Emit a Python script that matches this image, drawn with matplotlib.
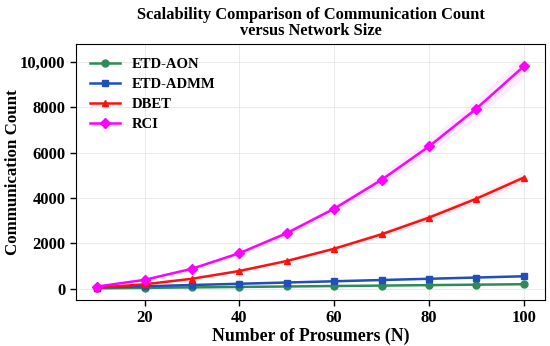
import numpy as np
import matplotlib
matplotlib.use("Agg")
import matplotlib.pyplot as plt
from matplotlib.ticker import FuncFormatter

plt.rcParams['font.family'] = ['Liberation Serif', 'DejaVu Serif']
plt.rcParams['font.weight'] = 'bold'

prosumers = [10, 20, 30, 40, 50, 60, 70, 80, 90, 100]
etd_aon = [20, 40, 60, 80, 100, 120, 140, 160, 180, 200]
etd_admm = [55, 110, 165, 220, 275, 330, 385, 440, 495, 550]
dbet = [49, 196, 441, 784, 1225, 1764, 2401, 3136, 3969, 4900]
rci = [98, 392, 882, 1568, 2450, 3528, 4802, 6272, 7938, 9800]

series = [
    ("ETD-AON", etd_aon, "#2e8b57", "o"),
    ("ETD-ADMM", etd_admm, "#1f4fb8", "s"),
    ("DBET", dbet, "#ff1010", "^"),
    ("RCI", rci, "#ff00ff", "D"),
]

fig, ax = plt.subplots(figsize=(5.5, 3.46), dpi=100)

for name, vals, col, mk in series:
    v = np.array(vals, dtype=float)
    ax.fill_between(prosumers, v * 0.95, v * 1.05, color=col, alpha=0.08, lw=0)
    ax.plot(prosumers, vals, color=col, marker=mk, markersize=5, lw=1.8, label=name)

ax.set_xticks([20, 40, 60, 80, 100])
ax.set_yticks([0, 2000, 4000, 6000, 8000, 10000])
ax.yaxis.set_major_formatter(FuncFormatter(
    lambda x, p: f"{x:,.0f}" if x >= 10000 else f"{x:.0f}"))
ax.tick_params(labelsize=12, width=1, length=4)
for lab in ax.get_xticklabels() + ax.get_yticklabels():
    lab.set_fontweight('bold')

ax.grid(True, color="#e6e6e6", lw=0.6)
ax.set_xlabel("Number of Prosumers (N)", fontsize=12.8, fontweight='bold', labelpad=1)
ax.set_ylabel("Communication Count", fontsize=12.2, fontweight='bold')
ax.yaxis.set_label_coords(-0.116, 0.5)
ax.set_title("Scalability Comparison of Communication Count\nversus Network Size",
             fontsize=11.8, fontweight='bold', linespacing=1.05, pad=6)

leg = ax.legend(loc="upper left", frameon=False, prop={'weight': 'bold', 'size': 10.5},
                handlelength=2.0, borderaxespad=0.6, labelspacing=0.45)

fig.subplots_adjust(left=0.138, right=0.991, top=0.874, bottom=0.133)
fig.savefig("out.png", dpi=100)
